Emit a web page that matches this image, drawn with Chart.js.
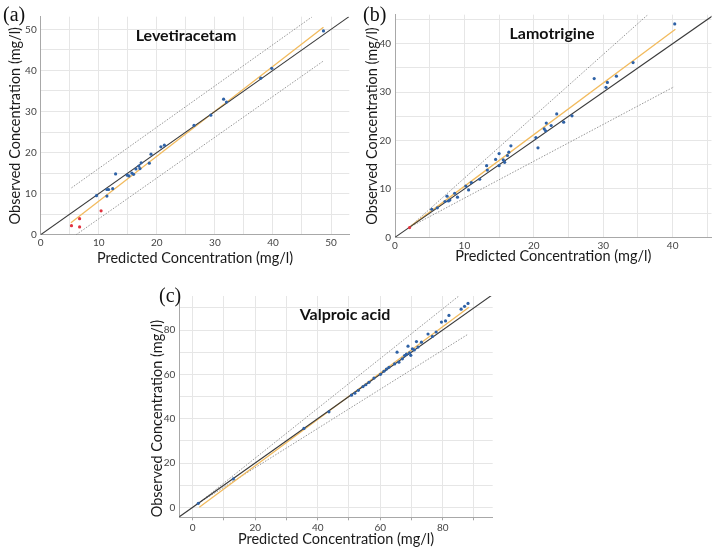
<!DOCTYPE html>
<html><head><meta charset="utf-8">
<script src="https://cdn.jsdelivr.net/npm/chart.js@4.4.1/dist/chart.umd.min.js"></script>
<style>
body{margin:0;background:#fff;}
#wrap{position:relative;width:717px;height:549px;overflow:hidden;background:#fff;}
canvas{position:absolute;}
.lab{position:absolute;font-family:'Liberation Serif','DejaVu Serif',serif;font-size:20px;color:#111;line-height:20px;}
.ttl{position:absolute;font-family:Lato,'Open Sans',sans-serif;font-weight:700;font-size:16px;color:#111;transform:translate(-50%,-50%);white-space:nowrap;}
</style></head><body>
<div id="wrap">
<canvas id="ca" width="358" height="270" style="left:0;top:0"></canvas>
<canvas id="cb" width="357" height="270" style="left:360px;top:0"></canvas>
<canvas id="cc" width="360" height="279" style="left:140px;top:270px"></canvas>
<div class="lab" style="left:3px;top:4px">(a)</div>
<div class="lab" style="left:363px;top:4px">(b)</div>
<div class="lab" style="left:159px;top:285px">(c)</div>
<div class="ttl" id="ta" style="left:186px;top:34px"></div>
<div class="ttl" id="tb" style="left:552px;top:32px"></div>
<div class="ttl" id="tc" style="left:345px;top:313px"></div>
</div>
<script>
// ---------- Data ----------
const panelNames = ['Levetiracetam', 'Lamotrigine', 'Valproic acid'];
const xAxisTitle = 'Predicted Concentration (mg/l)';
const yAxisTitle = 'Observed Concentration (mg/l)';

// (a) Levetiracetam
const levPredBlue = [9.6, 11.4, 11.7, 11.4, 12.4, 12.9, 14.9, 15.2, 15.7, 16.0, 16.4, 16.9, 17.1, 17.3, 18.7, 19.0, 20.7, 21.3, 26.4, 29.3, 31.5, 32.0, 37.9, 39.8, 48.7];
const levObsBlue  = [9.5, 11.0, 11.0, 9.4, 11.2, 14.8, 14.5, 14.3, 15.0, 14.7, 16.0, 16.7, 16.1, 17.5, 17.4, 19.6, 21.4, 21.8, 26.6, 29.1, 33.0, 32.3, 38.1, 40.5, 49.6];
const levPredRed  = [5.3, 6.7, 6.7, 10.4];
const levObsRed   = [2.2, 3.9, 1.9, 5.8];
const levIdentity = [[0, 0], [53.1, 53.1]];
const levUpper    = [[5.3, 11.4], [46.7, 53.0]];
const levLower    = [[6.1, 0], [48.7, 42.3]];
const levFit      = [[5.2, 2.9], [48.7, 50.5]];

// (b) Lamotrigine
const lamPredBlue = [5.3, 6.1, 7.2, 7.5, 7.7, 7.9, 8.6, 9.0, 10.2, 10.6, 11.0, 12.2, 13.2, 13.3, 14.5, 15.0, 15.0, 15.6, 15.8, 16.2, 16.4, 16.7, 20.3, 20.6, 21.5, 21.8, 21.7, 22.5, 23.3, 24.3, 25.5, 28.7, 30.4, 30.6, 31.9, 34.3, 40.3];
const lamObsBlue  = [5.8, 6.1, 7.4, 8.5, 7.5, 7.7, 9.1, 8.3, 10.6, 9.8, 11.3, 12.0, 14.8, 13.9, 16.1, 14.8, 17.3, 16.0, 15.5, 16.9, 17.6, 18.9, 20.6, 18.5, 22.4, 23.6, 22.0, 23.1, 25.5, 23.8, 25.1, 32.8, 31.0, 32.0, 33.3, 36.1, 44.1];
const lamPredRed  = [2.1];
const lamObsRed   = [2.0];
const lamIdentity = [[0, 0], [46, 46]];
const lamUpper    = [[2, 2], [36.5, 46.1]];
const lamLower    = [[2, 2], [40.2, 31.1]];
const lamFit      = [[2, 2], [40.4, 43.0]];

// (c) Valproic acid
const valPredBlue = [1.8, 13.0, 35.6, 43.6, 50.8, 51.9, 53.0, 54.5, 55.4, 56.4, 58.0, 60.1, 61.2, 62.0, 62.8, 64.6, 65.4, 66.0, 67.1, 67.8, 68.4, 68.9, 69.4, 69.8, 70.3, 70.9, 71.6, 72.1, 73.2, 75.3, 76.7, 77.9, 79.6, 80.9, 82.0, 85.9, 87.0, 88.1];
const valObsBlue  = [1.8, 12.8, 35.6, 43.1, 50.6, 51.5, 52.8, 54.5, 55.3, 56.4, 58.3, 60.0, 61.4, 62.4, 63.2, 64.7, 70.0, 65.5, 67.0, 68.5, 69.1, 72.7, 69.7, 68.6, 71.5, 71.0, 74.8, 72.3, 74.5, 78.2, 77.1, 79.1, 83.6, 84.1, 86.6, 89.4, 90.7, 92.0];
const valIdentity = [[-4.5, -4.5], [96, 96]];
const valUpper    = [[2, 2], [85.2, 95.4]];
const valLower    = [[2, 2], [88.1, 78.1]];
const valFit      = [[2.1, 0], [88.4, 90.3]];

// ---------- Styling ----------
const BLUE = '#2f62a6', RED = '#e2323f', GRID = '#e6e6e6', AXIS = '#a8a8a8';
Chart.defaults.font.family = "Lato, 'Open Sans', sans-serif";

function pts(xs, ys) { return xs.map((x, i) => ({ x: x, y: ys[i] })); }
function seg(p) { return p.map(q => ({ x: q[0], y: q[1] })); }
function lineDs(p, color, w, dash) {
  return { data: seg(p), showLine: true, borderColor: color, borderWidth: w, borderDash: dash || [],
           pointRadius: 0, fill: false, tension: 0 };
}

function panel(id, o) {
  const ds = [];
  ds.push({ data: pts(o.bp, o.bo), backgroundColor: BLUE, borderWidth: 0, pointRadius: 1.6 });
  if (o.rp) ds.push({ data: pts(o.rp, o.ro), backgroundColor: RED, borderWidth: 0, pointRadius: 1.6 });
  ds.push(lineDs(o.id, '#3a3a3a', 1.1));
  ds.push(lineDs(o.fit, '#f2bb5e', 1.3));
  ds.push(lineDs(o.up, '#7c7c7c', 0.8, [1.5, 1.5]));
  ds.push(lineDs(o.lo, '#7c7c7c', 0.8, [1.5, 1.5]));
  const lab = (step) => (v) => (Math.abs(v % step) < 1e-6 ? String(v) : '');
  new Chart(document.getElementById(id), {
    type: 'scatter',
    data: { datasets: ds },
    options: {
      responsive: false, animation: false, events: [],
      layout: { padding: { top: o.pt, right: o.pr, left: 0, bottom: 0 } },
      plugins: { legend: { display: false }, tooltip: { enabled: false } },
      scales: {
        x: {
          type: 'linear', min: o.xmin, max: o.xmax,
          afterFit: (s) => { s.height = o.xh; },
          grid: { color: GRID, drawTicks: !!o.xticks, tickLength: 3, tickColor: AXIS },
          border: { color: AXIS, width: 1 },
          ticks: { stepSize: o.xstep, includeBounds: false, autoSkip: false, maxRotation: 0,
                   padding: o.xtp, color: '#444', font: { size: 10 }, callback: lab(o.xlab) },
          title: { display: true, text: xAxisTitle, color: '#1a1a1a', font: { size: 14.5 },
                   padding: { top: 0, bottom: o.xtb } }
        },
        y: {
          type: 'linear', min: o.ymin, max: o.ymax,
          afterFit: (s) => { s.width = o.yw; },
          grid: { color: GRID, drawTicks: false },
          border: { color: AXIS, width: 1 },
          ticks: { stepSize: o.ystep, includeBounds: false, autoSkip: false,
                   padding: 4, color: '#444', font: { size: 10 }, callback: lab(o.ylab) },
          title: { display: true, text: yAxisTitle, color: '#1a1a1a', font: { size: 14.5 },
                   align: o.yalign || 'center', padding: { top: o.ytp, bottom: 0 } }
        }
      }
    }
  });
}

document.getElementById('ta').textContent = panelNames[0];
document.getElementById('tb').textContent = panelNames[1];
document.getElementById('tc').textContent = panelNames[2];

panel('ca', { bp: levPredBlue, bo: levObsBlue, rp: levPredRed, ro: levObsRed,
  id: levIdentity, up: levUpper, lo: levLower, fit: levFit,
  xmin: 0, xmax: 53.15, ymin: 0, ymax: 53.07, xstep: 5, ystep: 5, xlab: 10, ylab: 10,
  pt: 16.7, pr: 8.7, xh: 35.3, yw: 40.7, xtp: 2, xtb: 3.3, ytp: 6.8 });

panel('cb', { bp: lamPredBlue, bo: lamObsBlue, rp: lamPredRed, ro: lamObsRed,
  id: lamIdentity, up: lamUpper, lo: lamLower, fit: lamFit,
  xmin: 0, xmax: 45.6, ymin: 0, ymax: 46, xstep: 5, ystep: 5, xlab: 10, ylab: 10,
  pt: 14.7, pr: 5.5, xh: 32.7, yw: 35, xtp: 2, xtb: 5.3, ytp: 3.8 });

panel('cc', { bp: valPredBlue, bo: valObsBlue,
  id: valIdentity, up: valUpper, lo: valLower, fit: valFit,
  xmin: -4.29, xmax: 96, ymin: -4.5, ymax: 95.35, xstep: 10, ystep: 10, xlab: 20, ylab: 20,
  pt: 26, pr: 7.3, xh: 31.7, yw: 39.3, xtp: 1.5, xtb: 1, ytp: 8.8, xticks: true, yalign: 'start' });
</script>
</body></html>
